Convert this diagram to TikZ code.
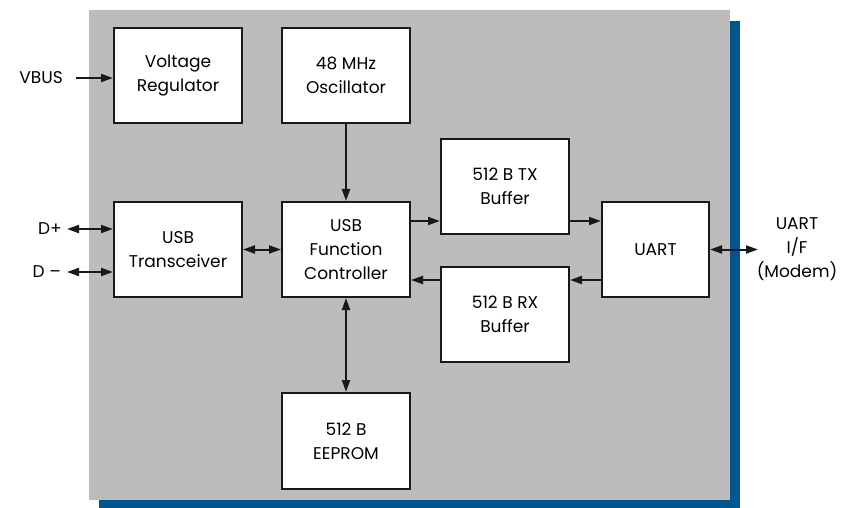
\documentclass[tikz,border=0pt]{standalone}
\usepackage{fontspec}
\setmainfont{Poppins}
\usetikzlibrary{calc}
\usetikzlibrary{arrows.meta}

\definecolor{panelgray}{HTML}{BDBCBA}
\definecolor{shadowblue}{HTML}{02568E}

\begin{document}
\begin{tikzpicture}[x=1pt,y=-1pt,
  block/.style={draw=black!90,line width=2pt,fill=white,minimum width=128pt,
    minimum height=95pt,align=center,inner sep=0pt},
  conn/.style={line width=2pt,draw=black!90,-{Triangle[length=12pt,width=8pt]}},
  bconn/.style={line width=2pt,draw=black!90,
    {Triangle[length=12pt,width=8pt]}-{Triangle[length=12pt,width=8pt]}},
  lbl/.style={align=center,inner sep=0pt},
  font=\fontsize{17}{24}\selectfont]

\useasboundingbox (0,0) rectangle (852,508);

% Chip body with shadow
\fill[shadowblue] (99,21) rectangle (740,508);
\fill[panelgray] (89,10) rectangle (730,500);

% Blocks
\node[block] (reg) at (178,75.5) {Voltage\\Regulator};
\node[block] (osc) at (346,75.5) {48 MHz\\Oscillator};
\node[block] (xcvr) at (178,249.5) {USB\\Transceiver};
\node[block] (ctrl) at (346,249.5) {USB\\Function\\Controller};
\node[block] (txbuf) at (505,186.5) {512 B TX\\Buffer};
\node[block] (rxbuf) at (505,314.5) {512 B RX\\Buffer};
\node[block,minimum width=107pt] (uart) at (655.5,249.5) {UART};
\node[block,minimum height=96pt] (eeprom) at (346,441) {512 B\\EEPROM};

% Outside pins
\coordinate (vbusin) at (76,78);
\coordinate (dplus) at (67,229);
\coordinate (dminus) at (67,272);
\coordinate (ifport) at (758,249.5);
\node[lbl,anchor=east] (vbus) at (63,78) {VBUS};
\node[lbl,anchor=east] (dp) at (62,229) {D+};
\node[lbl,anchor=east] (dm) at (61,272) {D –};
\node[lbl] (uartif) at (797,249) {UART\\I/F\\(Modem)};

% Rows for the buffer paths
\coordinate (txrow) at (0,221);
\coordinate (rxrow) at (0,280);

% Connectors
\draw[conn] (vbusin) -- (reg.west |- vbusin);
\draw[bconn] (dplus) -- (xcvr.west |- dplus);
\draw[bconn] (dminus) -- (xcvr.west |- dminus);
\draw[bconn] (xcvr.east) -- (ctrl.west);
\draw[conn] (osc.south) -- (ctrl.north);
\draw[bconn] (ctrl.south) -- (eeprom.north);
\draw[conn] (ctrl.east |- txrow) -- (txbuf.west |- txrow);
\draw[conn] (txbuf.east |- txrow) -- (uart.west |- txrow);
\draw[conn] (uart.west |- rxrow) -- (rxbuf.east |- rxrow);
\draw[conn] (rxbuf.west |- rxrow) -- (ctrl.east |- rxrow);
\draw[bconn] (uart.east) -- (ifport);

\end{tikzpicture}
\end{document}
